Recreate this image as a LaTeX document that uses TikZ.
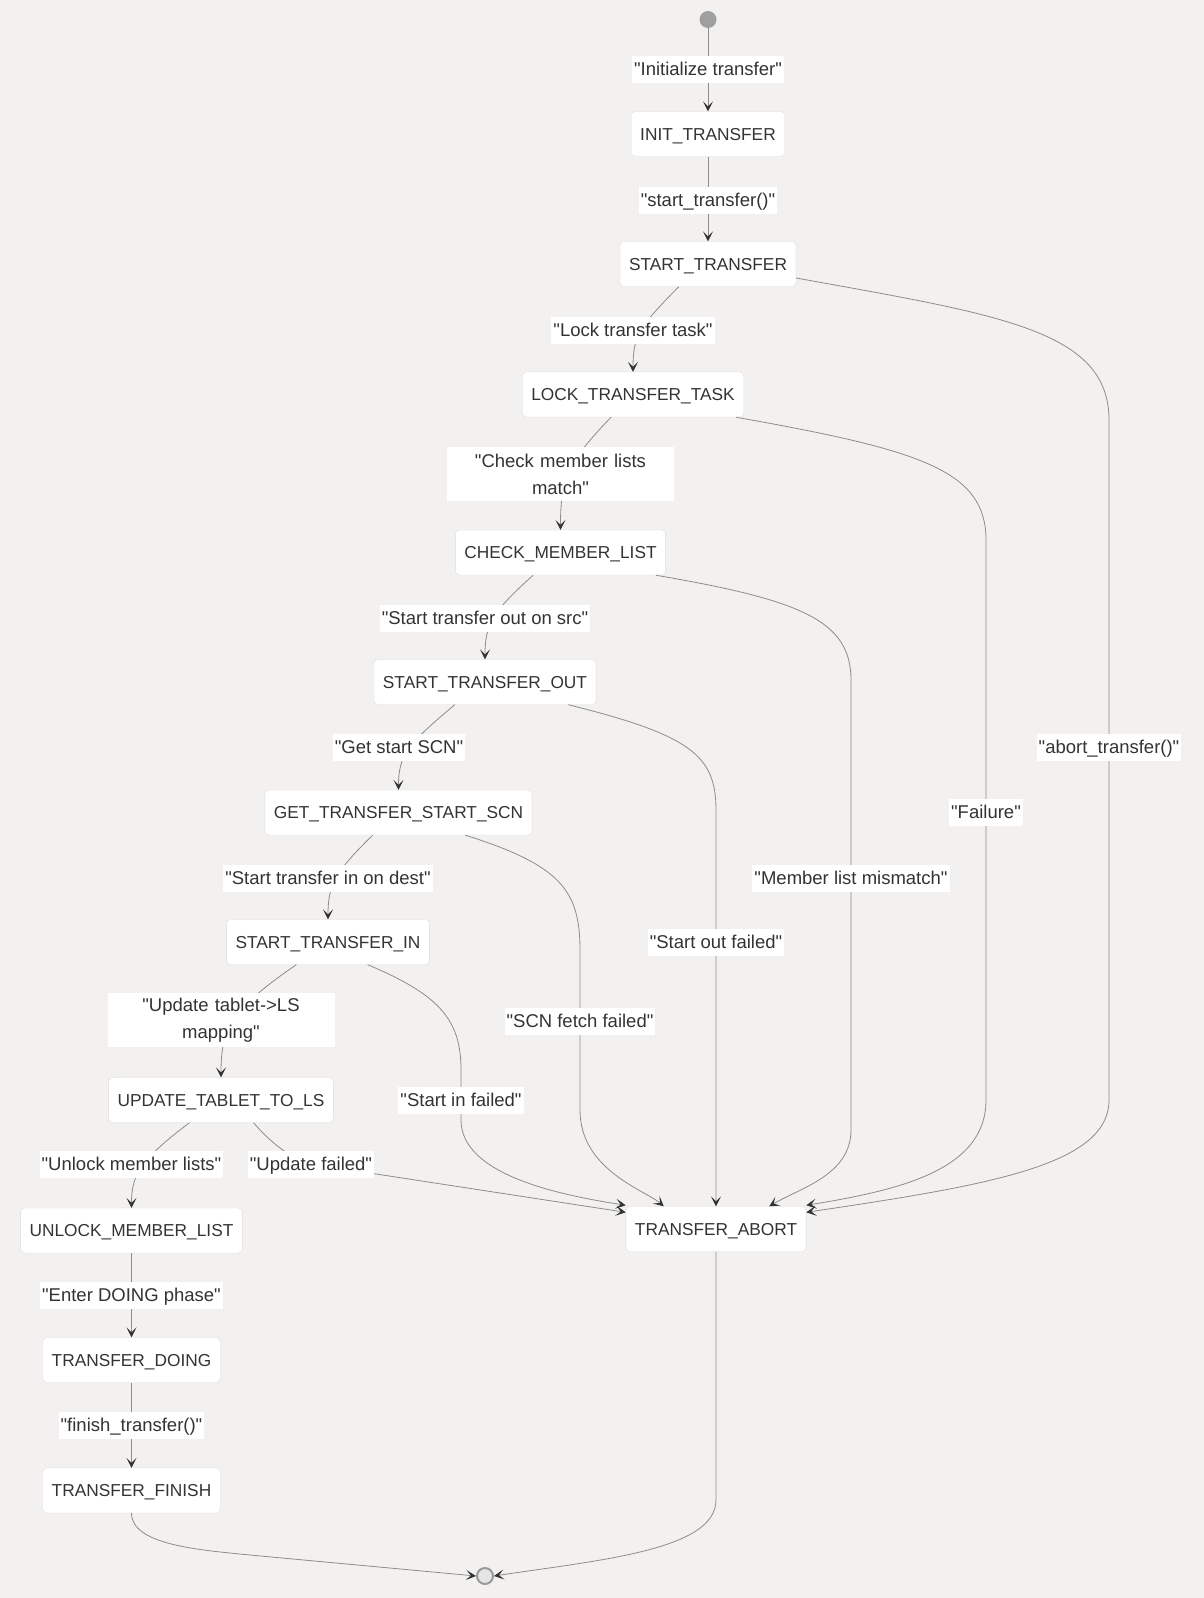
\documentclass[tikz,border=0pt]{standalone}
\usepackage{fontspec}
\setmainfont{Liberation Sans}[Ligatures=TeXOff]
\usetikzlibrary{arrows.meta}

\definecolor{bgc}{HTML}{F2F1EF}
\definecolor{boxline}{HTML}{DDDDDD}
\definecolor{linec}{HTML}{8C8C8C}
\definecolor{tipc}{HTML}{333333}
\definecolor{txt}{HTML}{333333}

\begin{document}
\begin{tikzpicture}[x=1pt, y=-1pt,
	state/.style={draw=boxline, fill=white, rounded corners=4pt, minimum height=45pt, inner xsep=9pt, text height=12.5pt, text depth=0pt, text=txt, font=\fontsize{17.3}{20}\selectfont},
	lbl/.style={fill=white, inner xsep=2pt, inner ysep=2pt, minimum height=27pt, text height=13pt, text depth=0pt, text=txt, font=\fontsize{18.5}{22}\selectfont},
	lbltwo/.style={fill=white, inner xsep=3pt, inner ysep=2pt, text width=221pt, align=center, minimum height=54pt, text=txt, font=\fontsize{18.5}{27}\selectfont},
	edge/.style={draw=linec, line width=0.8pt, -{Stealth[length=10pt, width=10pt, inset=5pt, color=tipc]}}]

		\fill[bgc] (0, 0) rectangle (1204, 1598);
		\useasboundingbox (0, 0) rectangle (1204, 1598);

		% states
		\node[circle, fill=gray!75, minimum size=17pt, inner sep=0pt] (s0) at (708, 19.5) {};
		\node[state] (init) at (708, 134) {INIT\_TRANSFER};
		\node[state] (st) at (708, 264) {START\_TRANSFER};
		\node[state] (lock) at (633, 394.5) {LOCK\_TRANSFER\_TASK};
		\node[state] (chk) at (560.5, 552.5) {CHECK\_MEMBER\_LIST};
		\node[state] (out) at (485, 682) {START\_TRANSFER\_OUT};
		\node[state] (scn) at (398.5, 812.5) {GET\_TRANSFER\_START\_SCN};
		\node[state] (tin) at (328, 942) {START\_TRANSFER\_IN};
		\node[state] (upd) at (221, 1100) {UPDATE\_TABLET\_TO\_LS};
		\node[state] (unl) at (131.5, 1230.5) {UNLOCK\_MEMBER\_LIST};
		\node[state] (doing) at (131.5, 1360) {TRANSFER\_DOING};
		\node[state] (fin) at (131.5, 1490.5) {TRANSFER\_FINISH};
		\node[state] (ab) at (716, 1229) {TRANSFER\_ABORT};
		\node[circle, draw=gray!80, line width=2pt, fill=gray!20, minimum size=16pt, inner sep=0pt] (e0) at (485, 1576) {};

		% main path
		\draw[edge] (s0) -- (init);
		\draw[edge] (init) -- (st);
		\draw[edge] ([xshift=59pt]st.south west) .. controls (640, 326) and (633, 335) .. (lock.north);
		\draw[edge] ([xshift=89pt]lock.south west) .. controls (568, 462) and (560.5, 478) .. (chk.north);
		\draw[edge] ([xshift=78pt]chk.south west) .. controls (492, 612) and (485, 625) .. (out.north);
		\draw[edge] ([xshift=81pt]out.south west) .. controls (408, 744) and (398.5, 755) .. (scn.north);
		\draw[edge] ([xshift=108pt]scn.south west) .. controls (335, 872) and (328, 885) .. (tin.north);
		\draw[edge] ([xshift=70pt]tin.south west) .. controls (230, 1010) and (221, 1030) .. (upd.north);
		\draw[edge] ([xshift=81pt]upd.south west) .. controls (140, 1160) and (131.5, 1175) .. (unl.north);
		\draw[edge] (unl) -- (doing);
		\draw[edge] (doing) -- (fin);
		\draw[edge] (fin.south) .. controls (131.5, 1545) and (200, 1550) .. (250, 1555) -- (e0.west);
		\draw[edge] (ab.south) -- (716, 1500) .. controls (716, 1550) and (600, 1560) .. (e0.east);

		% failures
		\draw[edge] ([yshift=-14pt]st.east) .. controls (1000, 315) and (1109, 330) .. (1109, 420) -- (1109, 1100) .. controls (1109, 1165) and (990, 1185) .. ([yshift=-6pt]ab.north east);
		\draw[edge] ([xshift=-8pt]lock.south east) .. controls (920, 450) and (986, 470) .. (986, 540) -- (986, 1100) .. controls (986, 1170) and (900, 1190) .. ([yshift=1pt]ab.north east);
		\draw[edge] ([xshift=-10pt]chk.south east) .. controls (800, 600) and (851, 620) .. (851, 680) -- (851, 1130) .. controls (851, 1175) and (800, 1188) .. ([xshift=-37pt]ab.north east);
		\draw[edge] ([xshift=-28pt]out.south east) .. controls (690, 735) and (716, 755) .. (716, 810) -- (ab.north);
		\draw[edge] ([xshift=-67pt]scn.south east) .. controls (560, 865) and (580, 890) .. (580, 950) -- (580, 1110) .. controls (580, 1170) and (645, 1190) .. ([xshift=38pt]ab.north west);
		\draw[edge] ([xshift=-62pt]tin.south east) .. controls (440, 995) and (461, 1020) .. (461, 1070) -- (461, 1120) .. controls (461, 1175) and (560, 1195) .. ([yshift=1pt]ab.north west);
		\draw[edge] ([xshift=-80pt]upd.south east) .. controls (270, 1142) and (290, 1158) .. (311, 1164) -- ([yshift=-6pt]ab.north west);

		% labels
		\node[lbl] (l1) at (708, 69) {"Initialize transfer"};
		\node[lbl] (l2) at (708, 200) {"start\_transfer()"};
		\node[lbl] (l3) at (633, 330) {"Lock transfer task"};
		\node[lbltwo] (l4) at (560.5, 474) {"Check member lists\\match"};
		\node[lbl] (l5) at (485, 618) {"Start transfer out on src"};
		\node[lbl] (l6) at (399, 747) {"Get start SCN"};
		\node[lbl] (l7) at (328, 878) {"Start transfer in on dest"};
		\node[lbltwo] (l8) at (221, 1020) {"Update tablet->LS\\mapping"};
		\node[lbl] (l9) at (131.5, 1164) {"Unlock member lists"};
		\node[lbl] (l10) at (131.5, 1295) {"Enter DOING phase"};
		\node[lbl] (l11) at (131.5, 1425) {"finish\_transfer()"};

		\node[lbl] (f1) at (1109, 747) {"abort\_transfer()"};
		\node[lbl] (f2) at (986, 812) {"Failure"};
		\node[lbl] (f3) at (851, 878) {"Member list mismatch"};
		\node[lbl] (f4) at (716, 942) {"Start out failed"};
		\node[lbl] (f5) at (580, 1021) {"SCN fetch failed"};
		\node[lbl] (f6) at (461, 1100) {"Start in failed"};
		\node[lbl] (f7) at (311, 1164) {"Update failed"};

	\end{tikzpicture}
\end{document}
